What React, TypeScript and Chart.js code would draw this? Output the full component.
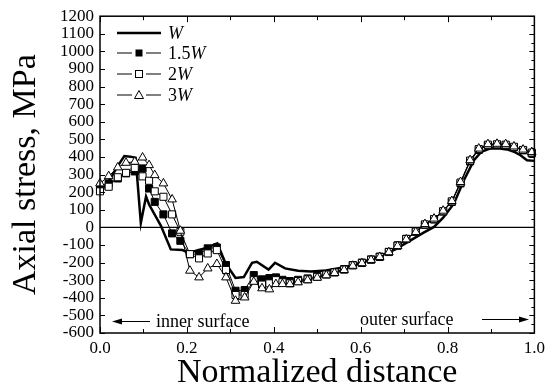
import React, { useEffect, useRef } from "react";
import { Chart, registerables } from "chart.js";

Chart.register(...registerables);

// ---------- data ----------
const xMarkers = [
  0, 0.02, 0.041, 0.06, 0.08, 0.098, 0.113, 0.126, 0.146, 0.166, 0.185, 0.207, 0.228, 0.248,
  0.269, 0.29, 0.312, 0.333, 0.354, 0.373, 0.39, 0.405, 0.42, 0.437, 0.456, 0.478, 0.5, 0.521,
  0.54, 0.562, 0.582, 0.603, 0.624, 0.644, 0.665, 0.685, 0.705, 0.727, 0.748, 0.769, 0.79, 0.81,
  0.83, 0.852, 0.872, 0.893, 0.914, 0.934, 0.953, 0.974, 0.994,
];

const y15W = [
  215, 250, 278, 307, 318, 335, 221, 145, 74, -34, -76, -152, -152, -119, -114, -214, -360, -356,
  -271, -295, -288, -284, -298, -305, -298, -290, -276, -264, -254, -237, -214, -200, -182, -166,
  -139, -102, -65, -25, 15, 45, 90, 145, 250, 375, 440, 466, 470, 468, 455, 438, 420,
];

const y2W = [
  205, 231, 285, 310, 338, 290, 265, 205, 174, 74, -25, -152, -176, -148, -129, -242, -384, -384,
  -300, -325, -318, -300, -312, -318, -305, -295, -281, -268, -256, -240, -216, -202, -184, -168,
  -140, -104, -66, -24, 17, 47, 92, 148, 255, 380, 445, 470, 472, 470, 458, 440, 425,
];

const y3W = [
  250, 291, 341, 367, 373, 397, 354, 297, 250, 159, -19, -246, -284, -233, -208, -284, -417, -398,
  -309, -346, -352, -322, -322, -322, -312, -300, -286, -272, -259, -242, -218, -203, -185, -168,
  -141, -106, -68, -26, 19, 50, 95, 150, 258, 382, 448, 473, 475, 473, 460, 442, 428,
];

const xW = [
  0, 0.02, 0.04, 0.056, 0.07, 0.082, 0.094, 0.106, 0.113, 0.14, 0.163, 0.19, 0.205, 0.225, 0.243,
  0.27, 0.289, 0.312, 0.331, 0.35, 0.361, 0.388, 0.403, 0.426, 0.456, 0.486, 0.52, 0.563, 0.6,
  0.64, 0.68, 0.716, 0.745, 0.769, 0.79, 0.815, 0.838, 0.861, 0.878, 0.899, 0.92, 0.937, 0.955,
  0.968, 0.983, 1.0,
];
const yW = [
  205, 262, 345, 405, 402, 395, 25, 175, 130, 10, -125, -129, -145, -130, -118, -91, -204, -287,
  -282, -201, -195, -240, -201, -233, -246, -250, -245, -227, -200, -167, -125, -72, -30, 3, 55,
  136, 269, 382, 430, 449, 448, 443, 428, 410, 382, 378,
];

const seriesNames = ["W", "1.5W", "2W", "3W"];
const xRange = [0, 1];
const yRange = [-600, 1200];
const xStep = 0.2;
const yStep = 100;

const FONT = "'Liberation Serif', 'Times New Roman', Times, serif";

function pts(xs: number[], ys: number[]) {
  return xs.map((x, i) => ({ x, y: ys[i] }));
}

function drawMarker(ctx: CanvasRenderingContext2D, kind: string, x: number, y: number) {
  ctx.save();
  ctx.lineWidth = 1;
  ctx.strokeStyle = "#000";
  if (kind === "fsq") {
    ctx.fillStyle = "#000";
    ctx.fillRect(x - 3.5, y - 3.5, 7, 7);
  } else if (kind === "osq") {
    ctx.fillStyle = "#fff";
    ctx.fillRect(x - 3.5, y - 3.5, 7, 7);
    ctx.strokeRect(x - 3.5, y - 3.5, 7, 7);
  } else if (kind === "tri") {
    ctx.fillStyle = "#fff";
    ctx.beginPath();
    ctx.moveTo(x, y - 4.5);
    ctx.lineTo(x + 4.5, y + 3.5);
    ctx.lineTo(x - 4.5, y + 3.5);
    ctx.closePath();
    ctx.fill();
    ctx.stroke();
  }
  ctx.restore();
}

const decorPlugin = {
  id: "decor",
  beforeDatasetsDraw(chart: any) {
    const { ctx, chartArea: a, scales } = chart;
    const y0 = scales.y.getPixelForValue(0);
    ctx.save();
    ctx.strokeStyle = "#000";
    ctx.lineWidth = 1.2;
    ctx.beginPath();
    ctx.moveTo(a.left, y0);
    ctx.lineTo(a.right, y0);
    ctx.stroke();
    ctx.restore();
  },
  afterDraw(chart: any) {
    const { ctx, chartArea: a, scales } = chart;
    ctx.save();
    ctx.strokeStyle = "#000";
    ctx.lineWidth = 1.5;
    ctx.strokeRect(a.left, a.top, a.right - a.left, a.bottom - a.top);

    // ticks
    ctx.lineWidth = 1;
    ctx.beginPath();
    for (let v = yRange[0]; v <= yRange[1]; v += 50) {
      const py = Math.round(scales.y.getPixelForValue(v)) + 0.5;
      const major = v % 100 === 0;
      if (major) {
        ctx.moveTo(a.left, py);
        ctx.lineTo(a.left + 5, py);
      }
      ctx.moveTo(a.right, py);
      ctx.lineTo(a.right - (major ? 5 : 3), py);
    }
    for (let i = 0; i <= 10; i++) {
      const px = Math.round(scales.x.getPixelForValue(i / 10)) + 0.5;
      const len = i % 2 === 0 ? 6 : 4;
      ctx.moveTo(px, a.bottom);
      ctx.lineTo(px, a.bottom - len);
      ctx.moveTo(px, a.top);
      ctx.lineTo(px, a.top + len);
    }
    ctx.stroke();

    // legend
    const rows = [33, 53, 74, 95];
    const kinds = ["line", "fsq", "osq", "tri"];
    const lx0 = 117,
      lx1 = 161,
      mx = 139;
    rows.forEach((ry, i) => {
      ctx.strokeStyle = "#000";
      if (kinds[i] === "line") {
        ctx.lineWidth = 2.5;
        ctx.beginPath();
        ctx.moveTo(lx0, ry);
        ctx.lineTo(lx1, ry);
        ctx.stroke();
      } else {
        ctx.lineWidth = 1;
        ctx.beginPath();
        ctx.moveTo(lx0, ry);
        ctx.lineTo(mx - 7, ry);
        ctx.moveTo(mx + 7, ry);
        ctx.lineTo(lx1, ry);
        ctx.stroke();
        drawMarker(ctx, kinds[i], mx, ry);
      }
      const name = seriesNames[i];
      const num = name.slice(0, -1);
      ctx.fillStyle = "#000";
      ctx.textBaseline = "middle";
      ctx.textAlign = "left";
      let tx = 168;
      if (num) {
        ctx.font = `18px ${FONT}`;
        ctx.fillText(num, tx, ry + 1);
        tx += ctx.measureText(num).width;
      }
      ctx.font = `italic 18px ${FONT}`;
      ctx.fillText("W", tx, ry + 1);
    });

    // annotations
    ctx.font = `18px ${FONT}`;
    ctx.textBaseline = "middle";
    ctx.fillStyle = "#000";
    ctx.textAlign = "left";
    ctx.fillText("inner surface", 156, 322);
    ctx.fillText("outer surface", 360, 320);
    ctx.lineWidth = 1;
    ctx.beginPath();
    ctx.moveTo(150, 321.5);
    ctx.lineTo(116, 321.5);
    ctx.moveTo(482, 319.5);
    ctx.lineTo(524, 319.5);
    ctx.stroke();
    ctx.beginPath();
    ctx.moveTo(112, 321.5);
    ctx.lineTo(122, 318.5);
    ctx.lineTo(122, 324.5);
    ctx.closePath();
    ctx.fill();
    ctx.beginPath();
    ctx.moveTo(529, 319.5);
    ctx.lineTo(519, 316.5);
    ctx.lineTo(519, 322.5);
    ctx.closePath();
    ctx.fill();
    ctx.restore();
  },
};

export default function App() {
  const ref = useRef<HTMLCanvasElement | null>(null);

  useEffect(() => {
    if (!ref.current) return;
    const chart = new Chart(ref.current, {
      type: "line",
      data: {
        datasets: [
          {
            label: seriesNames[0],
            data: pts(xW, yW),
            borderColor: "#000",
            borderWidth: 2.5,
            pointRadius: 0,
            order: 3,
            clip: false,
          },
          {
            label: seriesNames[1],
            data: pts(xMarkers, y15W),
            borderColor: "#000",
            borderWidth: 1,
            pointStyle: "rect",
            pointRadius: 5,
            pointBackgroundColor: "#000",
            pointBorderColor: "#000",
            pointBorderWidth: 1,
            order: 2,
            clip: false,
          },
          {
            label: seriesNames[2],
            data: pts(xMarkers, y2W),
            borderColor: "#000",
            borderWidth: 1,
            pointStyle: "rect",
            pointRadius: 5,
            pointBackgroundColor: "#fff",
            pointBorderColor: "#000",
            pointBorderWidth: 1,
            order: 1,
            clip: false,
          },
          {
            label: seriesNames[3],
            data: pts(xMarkers, y3W),
            borderColor: "#000",
            borderWidth: 1,
            pointStyle: "triangle",
            pointRadius: 5,
            pointBackgroundColor: "#fff",
            pointBorderColor: "#000",
            pointBorderWidth: 1,
            order: 0,
            clip: false,
          },
        ],
      },
      options: {
        responsive: false,
        animation: false,
        events: [],
        layout: { padding: { left: 0, right: 13, top: 16, bottom: 0 } },
        plugins: { legend: { display: false }, tooltip: { enabled: false } },
        scales: {
          x: {
            type: "linear",
            min: xRange[0],
            max: xRange[1],
            grid: { display: false, drawTicks: false },
            border: { display: false },
            ticks: {
              stepSize: xStep,
              padding: 5,
              color: "#000",
              font: { family: FONT, size: 17 },
              maxRotation: 0,
              callback: (v: any) => Number(v).toFixed(1),
            },
            title: {
              display: true,
              text: "Normalized distance",
              color: "#000",
              font: { family: FONT, size: 34, lineHeight: 1 },
              padding: { top: 0, bottom: 0 },
            },
            afterFit: (s: any) => {
              s.height = 57;
            },
          },
          y: {
            type: "linear",
            min: yRange[0],
            max: yRange[1],
            grid: { display: false, drawTicks: false },
            border: { display: false },
            ticks: {
              stepSize: yStep,
              autoSkip: false,
              padding: 6,
              color: "#000",
              font: { family: FONT, size: 17 },
              callback: (v: any) => String(v),
            },
            title: {
              display: true,
              text: "Axial stress, MPa",
              color: "#000",
              font: { family: FONT, size: 34, lineHeight: 1 },
              padding: { top: 9, bottom: 0 },
            },
            afterFit: (s: any) => {
              s.width = 100;
            },
          },
        },
      },
      plugins: [decorPlugin],
    } as any);
    return () => chart.destroy();
  }, []);

  return (
    <div style={{ position: "absolute", left: 0, top: 0, width: 550, height: 390, background: "#fff" }}>
      <canvas ref={ref} width={550} height={390} style={{ display: "block" }} />
    </div>
  );
}
